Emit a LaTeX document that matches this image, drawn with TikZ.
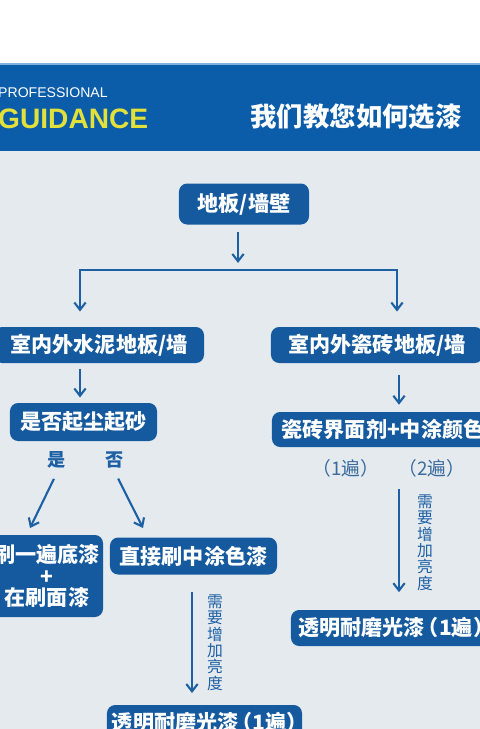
\documentclass[tikz,border=0pt]{standalone}
\usepackage{fontspec}
\setmainfont{Liberation Sans}
\newfontfamily\cjk{Noto Sans CJK SC}[RawFeature=+halt]
\usetikzlibrary{arrows.meta,positioning}
\definecolor{headblue}{HTML}{0C5DA9}
\definecolor{headedge}{HTML}{7FB2E0}
\definecolor{boxblue}{HTML}{155A9E}
\definecolor{lineblue}{HTML}{1D60A4}
\definecolor{bggray}{HTML}{E5EAEF}
\definecolor{guideyellow}{HTML}{E2E13C}
\definecolor{notegray}{HTML}{3A6B9C}

\begin{document}
\begin{tikzpicture}[x=0.03cm,y=-0.03cm]
	\tikzstyle{every node}=[font=\cjk]
	\tikzstyle{stepbox}=[fill=boxblue, text=white, rounded corners=7pt, inner sep=0pt, minimum height=1.08cm, font=\cjk\bfseries\fontsize{18}{20}\selectfont]
	\tikzstyle{arr}=[line width=1.8pt, lineblue, -{Straight Barb[length=2.2mm,width=3.4mm]}]
	\tikzstyle{note}=[text=notegray, font=\cjk\fontsize{16}{17}\selectfont]
	\tikzstyle{vnote}=[text=lineblue, align=center, inner sep=0pt, font=\cjk\fontsize{13.5}{14}\selectfont]
	\tikzstyle{answer}=[text=lineblue, font=\cjk\bfseries\fontsize{15.5}{16}\selectfont]
	\useasboundingbox (0,0) rectangle (480,729);
	\clip (0,0) rectangle (480,729);
	\fill[white] (0,0) rectangle (480,64);
	\fill[bggray] (0,151) rectangle (480,729);
	\fill[headblue] (0,64) rectangle (480,151);
	\fill[headedge] (0,63) rectangle (480,65);
	\node[anchor=west, inner sep=0pt, text=white, font=\fontsize{12}{12}\selectfont] (prof) at (-2,93) {PROFESSIONAL};
	\node[anchor=west, inner sep=0pt, text=guideyellow, font=\bfseries\fontsize{24}{25}\selectfont] (guide) at (-2,119) {GUIDANCE};
	\node[text=white, font=\cjk\bfseries\fontsize{22.5}{24}\selectfont] (title) at (356,117) {我们教您如何选漆};
	\node[stepbox, minimum width=3.9cm, minimum height=1.23cm] (surf) at (244,204) {地板/墙壁};
	\node[stepbox, minimum width=6.3cm] (cement) at (99,345) {室内外水泥地板/墙};
	\node[stepbox, minimum width=6.36cm] (tile) at (377,345) {室内外瓷砖地板/墙};
	\node[stepbox, minimum width=4.41cm, minimum height=1.14cm] (dust) at (83.5,422) {是否起尘起砂};
	\node[stepbox, minimum width=3.36cm, minimum height=2.46cm, align=center, font=\cjk\bfseries\fontsize{18}{18.5}\selectfont] (prime) at (47,576) {刷一遍底漆\\+\\在刷面漆};
	\node[stepbox, minimum width=5.01cm, minimum height=1.11cm] (direct) at (193.5,556) {直接刷中涂色漆};
	\node[stepbox, minimum width=6.66cm, minimum height=1.05cm] (bond) at (383,429.5) {瓷砖界面剂+中涂颜色};
	\node[stepbox, minimum width=6cm] (glossR) at (391,628) {透明耐磨光漆\,（1遍）};
	\node[stepbox, minimum width=5.85cm] (glossL) at (204.5,723) {透明耐磨光漆\,（1遍）};
	\node[answer] (yes) at (57,460) {是};
	\node[answer] (no) at (115,460) {否};
	\node[note] (coat1) at (346,468) {（1遍）};
	\node[note] (coat2) at (432,468) {（2遍）};
	\node[vnote] (shineR) at (425,542.5) {需\\要\\增\\加\\亮\\度};
	\node[vnote] (shineL) at (215,642.5) {需\\要\\增\\加\\亮\\度};
	\coordinate (split) at (238,270);
	\coordinate (lft) at (80,270);
	\coordinate (rgt) at (397,270);
	\coordinate (rcol) at (399,0);
	\coordinate (lcol) at (192,0);
	\coordinate (yesend) at (30,528);
	\coordinate (noend) at (143,528);
	\draw[arr, shorten <=6.5pt, shorten >=6pt] (surf.south -| split) -- (split);
	\draw[arr, shorten >=13pt] (split) -| (lft |- cement.north);
	\draw[arr, shorten >=13pt] (split) -| (rgt |- tile.north);
	\draw[arr, shorten <=4.5pt, shorten >=4.5pt] (cement.south -| lft) -- (dust.north -| lft);
	\draw[arr, shorten <=10pt, shorten >=6pt] (tile.south -| rcol) -- (bond.north -| rcol);
	\draw[arr, shorten <=6pt] (yes.south) -- (yesend);
	\draw[arr, shorten <=6pt] (no.south) -- (noend);
	\draw[arr, shorten <=36pt, shorten >=15pt] (bond.south -| rcol) -- (glossR.north -| rcol);
	\draw[arr, shorten <=15pt, shorten >=10pt] (direct.south -| lcol) -- (glossL.north -| lcol);
\end{tikzpicture}
\end{document}
